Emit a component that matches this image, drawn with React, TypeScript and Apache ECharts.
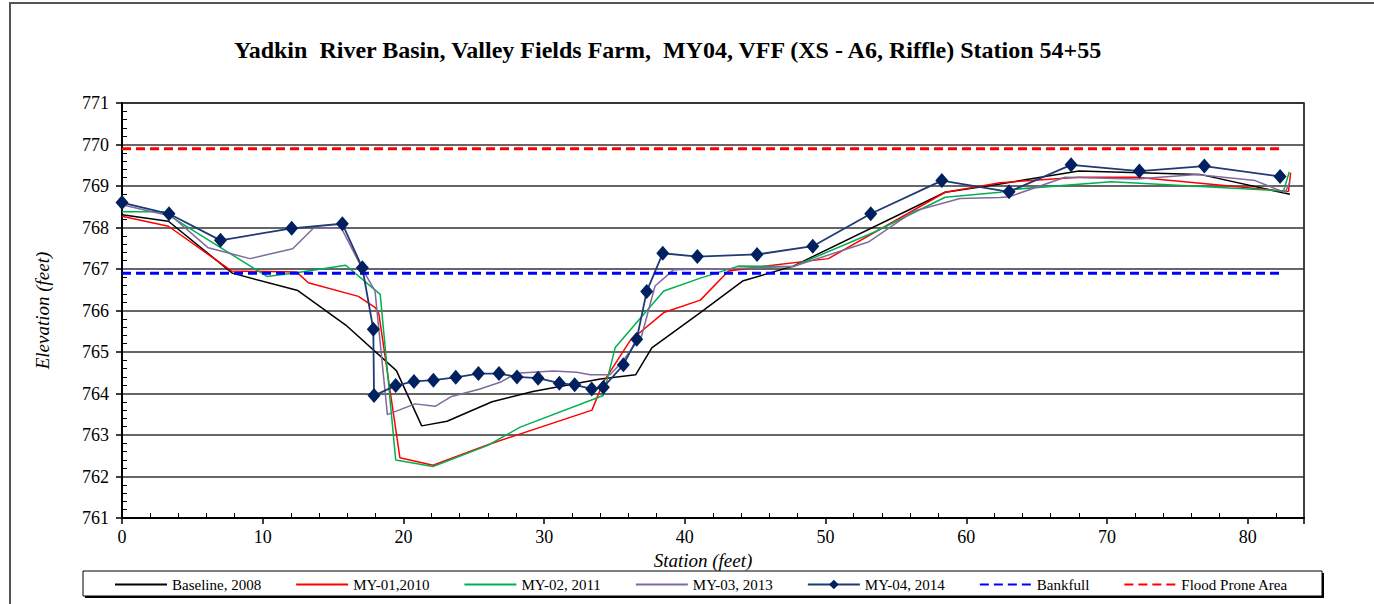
import React, { useEffect, useRef } from "react";
import * as echarts from "echarts";

const chartTitle =
  "Yadkin  River Basin, Valley Fields Farm,  MY04, VFF (XS - A6, Riffle) Station 54+55";

const seriesNames = [
  "Baseline, 2008",
  "MY-01,2010",
  "MY-02, 2011",
  "MY-03, 2013",
  "MY-04, 2014",
  "Bankfull",
  "Flood Prone Area",
];

// [station (ft), elevation (ft)]
const baseline2008 = [
  [0, 768.31], [3.3, 768.15], [7.84, 766.9], [12.5, 766.48], [15.9, 765.65],
  [19.5, 764.55], [21.3, 763.22], [23.1, 763.33], [26.3, 763.8], [29.2, 764.05],
  [34.0, 764.35], [36.5, 764.45], [37.65, 765.1], [41.1, 765.95], [44.1, 766.71],
  [47.7, 767.07], [58.5, 768.85], [62.4, 769.05], [68.0, 769.36], [76.6, 769.28],
  [83.0, 768.8],
];

const my01_2010 = [
  [0, 768.27], [3.3, 768.03], [7.8, 766.95], [12.4, 766.93], [13.24, 766.67],
  [16.8, 766.34], [18.0, 766.07], [18.25, 765.93], [19.75, 762.45], [22.1, 762.27],
  [26.2, 762.79], [33.4, 763.6], [34.2, 764.27], [36.1, 765.27], [38.5, 765.95],
  [41.1, 766.25], [43.1, 766.95], [45.3, 767.05], [50.2, 767.25], [58.5, 768.85],
  [62.4, 769.08], [68.0, 769.21], [72.1, 769.21], [81.9, 768.9], [82.9, 768.87],
  [83.05, 769.32],
];

const my02_2011 = [
  [0, 768.38], [2.94, 768.38], [3.53, 768.25], [10.3, 766.82], [12.4, 766.91],
  [15.9, 767.09], [18.35, 766.39], [19.45, 762.4], [22.1, 762.24], [26.0, 762.75],
  [28.3, 763.19], [34.2, 763.95], [35.05, 765.11], [38.5, 766.47], [41.1, 766.78],
  [43.8, 767.07], [47.7, 767.06], [53.4, 767.88], [58.5, 768.73], [62.4, 768.85],
  [63.35, 768.92], [70.3, 769.1], [82.55, 768.88], [82.95, 769.34],
];

const my03_2013 = [
  [0, 768.55], [3.53, 768.27], [6.13, 767.51], [9.1, 767.25], [12.13, 767.49],
  [13.6, 767.98], [15.6, 767.98], [17.04, 767.03], [17.98, 766.47], [18.86, 763.49],
  [20.82, 763.75], [22.25, 763.69], [23.43, 763.93], [25.44, 764.11], [26.87, 764.27],
  [28.05, 764.49], [30.65, 764.54], [32.32, 764.51], [33.26, 764.45], [34.68, 764.45],
  [35.51, 764.75], [36.93, 765.39], [37.88, 766.59], [39.19, 766.98], [43.45, 767.01],
  [47.7, 767.06], [53.04, 767.65], [56.24, 768.39], [59.56, 768.7], [62.4, 768.72],
  [63.04, 768.74], [67.02, 769.21], [72.1, 769.17], [76.37, 769.28], [80.53, 769.13],
  [82.66, 768.84], [83.0, 769.1],
];

const my04_2014 = [
  [0, 768.6], [3.34, 768.33], [7.0, 767.69], [12.06, 767.98], [15.66, 768.09],
  [17.08, 767.03], [17.86, 765.55], [17.91, 763.95], [19.45, 764.19], [20.75, 764.29],
  [22.13, 764.32], [23.72, 764.39], [25.33, 764.48], [26.79, 764.48], [28.07, 764.4],
  [29.57, 764.37], [31.08, 764.25], [32.17, 764.21], [33.38, 764.11], [34.21, 764.15],
  [35.63, 764.69], [36.58, 765.31], [37.29, 766.46], [38.43, 767.38], [40.89, 767.3],
  [45.13, 767.35], [49.09, 767.55], [53.21, 768.33], [58.26, 769.13], [63.04, 768.86],
  [67.45, 769.51], [72.3, 769.36], [76.92, 769.48], [82.3, 769.23],
];

const bankfullElevation = 766.9;
const floodProneElevation = 769.9;
const levelLineStations = [0, 82.5];

const xAxisRange = [0, 84];
const yAxisRange = [761, 771];

const FONT = "'Liberation Serif', 'Times New Roman', serif";

export default function App() {
  const ref = useRef<HTMLDivElement>(null);

  useEffect(() => {
    if (!ref.current) return;
    const chart = echarts.init(ref.current, null, { renderer: "svg" });

    const survey = (name: string, data: number[][], color: string, extra: any = {}) => ({
      name,
      type: "line",
      data,
      symbol: "none",
      lineStyle: { color, width: 1.5 },
      itemStyle: { color },
      ...extra,
    });

    const levelLine = (name: string, elev: number, color: string) => ({
      name,
      type: "line",
      data: levelLineStations.map((s) => [s, elev]),
      symbol: "none",
      lineStyle: { color, width: 3, type: [9, 5] },
      itemStyle: { color },
    });

    const legendData = seriesNames.map((name, i) =>
      i === 4 ? { name } : { name, itemStyle: { opacity: 0 } }
    );

    chart.setOption({
      animation: false,
      backgroundColor: "#ffffff",
      textStyle: { fontFamily: FONT },
      title: {
        text: chartTitle,
        left: 234,
        top: 38,
        padding: 0,
        textStyle: { fontFamily: FONT, fontSize: 24, fontWeight: "bold", color: "#000" },
      },
      graphic: [
        {
          type: "rect",
          silent: true,
          shape: { x: 10, y: 3, width: 1400, height: 700 },
          style: { fill: "none", stroke: "#555", lineWidth: 2 },
        },
        {
          type: "rect",
          silent: true,
          shape: { x: 85, y: 573, width: 1239, height: 25 },
          style: { fill: "#000" },
        },
        {
          type: "rect",
          silent: true,
          shape: { x: 83, y: 571, width: 1239, height: 25 },
          style: { fill: "#fff", stroke: "#000", lineWidth: 1 },
        },
      ],
      legend: {
        data: legendData,
        left: 114,
        top: 577,
        padding: 0,
        itemGap: 34,
        itemWidth: 52,
        itemHeight: 12,
        textStyle: { fontFamily: FONT, fontSize: 15, color: "#000" },
      },
      grid: {
        left: 122,
        top: 103,
        right: 70,
        bottom: 86,
        show: true,
        borderColor: "#000",
        borderWidth: 1.5,
        containLabel: false,
      },
      xAxis: {
        type: "value",
        min: xAxisRange[0],
        max: xAxisRange[1],
        interval: 10,
        name: "Station (feet)",
        nameLocation: "middle",
        nameGap: 27,
        nameTextStyle: {
          fontFamily: FONT,
          fontSize: 19,
          fontStyle: "italic",
          color: "#000",
          padding: [0, 20, 0, 0],
        },
        axisLine: { show: true, onZero: false, lineStyle: { color: "#000", width: 2 } },
        axisTick: { show: true, length: 6, lineStyle: { color: "#000", width: 1.5 } },
        minorTick: { show: true, splitNumber: 5, length: -5, lineStyle: { color: "#000", width: 1 } },
        axisLabel: {
          fontFamily: FONT,
          fontSize: 18,
          color: "#000",
          margin: 10,
          showMaxLabel: false,
        },
        splitLine: { show: false },
      },
      yAxis: {
        type: "value",
        min: yAxisRange[0],
        max: yAxisRange[1],
        interval: 1,
        name: "Elevation (feet)",
        nameLocation: "middle",
        nameRotate: 90,
        nameGap: 70,
        nameTextStyle: { fontFamily: FONT, fontSize: 19, fontStyle: "italic", color: "#000" },
        axisLine: { show: true, onZero: false, lineStyle: { color: "#000", width: 2 } },
        axisTick: { show: true, length: 6, lineStyle: { color: "#000", width: 1.5 } },
        minorTick: { show: true, splitNumber: 5, length: -5, lineStyle: { color: "#000", width: 1 } },
        axisLabel: { fontFamily: FONT, fontSize: 18, color: "#000", margin: 13 },
        splitLine: { show: true, lineStyle: { color: "#333", width: 1.5 } },
      },
      series: [
        survey(seriesNames[0], baseline2008, "#000000"),
        survey(seriesNames[1], my01_2010, "#FF0000"),
        survey(seriesNames[2], my02_2011, "#00B050"),
        survey(seriesNames[3], my03_2013, "#7F6A9E"),
        survey(seriesNames[4], my04_2014, "#002060", {
          symbol: "diamond",
          symbolSize: [13, 15],
          showSymbol: true,
          lineStyle: { color: "#1F3A75", width: 1.8 },
          itemStyle: { color: "#002060" },
        }),
        levelLine(seriesNames[5], bankfullElevation, "#0000FF"),
        levelLine(seriesNames[6], floodProneElevation, "#FF0000"),
      ],
    });

    return () => chart.dispose();
  }, []);

  return (
    <div
      ref={ref}
      style={{ position: "fixed", left: 0, top: 0, width: 1374, height: 604 }}
    />
  );
}
